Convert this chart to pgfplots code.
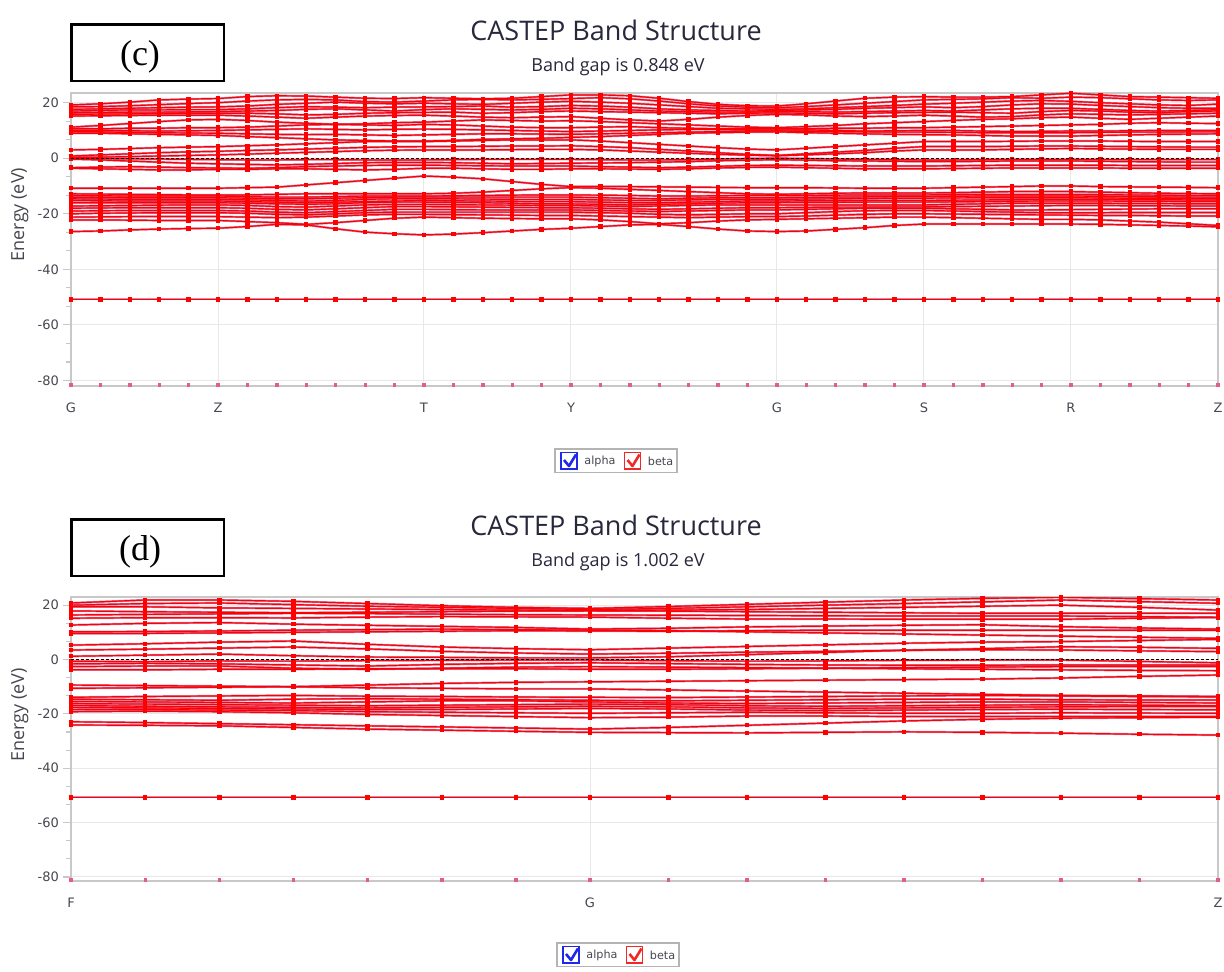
\documentclass[border=0pt]{standalone}
\usepackage{fontspec}
\setmainfont{DejaVu Sans}
\newfontfamily\titlefont{Open Sans}
\newfontfamily\boxfont{Liberation Serif}
\usepackage{pgfplots}
\usepackage{pgfplotstable}
\pgfplotsset{compat=1.18}

\definecolor{betared}{RGB}{255,0,0}
\definecolor{alphapurple}{RGB}{185,55,125}
\definecolor{corepink}{RGB}{225,95,130}
\definecolor{gridgray}{RGB}{232,232,232}
\definecolor{axisgray}{RGB}{200,200,200}
\definecolor{labelgray}{RGB}{70,70,80}
\definecolor{titlecol}{RGB}{40,40,60}
\definecolor{chkblue}{RGB}{30,40,230}
\definecolor{chkred}{RGB}{240,40,40}
\definecolor{legframe}{RGB}{180,180,180}

% Panel (c): one row per band, first row = k-point index along G-Z-T-Y-G-S-R-Z
\pgfplotstableread[header=false]{
0 1 2 3 4 5 6 7 8 9 10 11 12 13 14 15 16 17 18 19 20 21 22 23 24 25 26 27 28 29 30 31 32 33 34 35 36 37 38 39
19.2 19.6 20.2 21.0 21.3 21.5 22.2 22.5 22.4 22.0 21.6 21.5 21.8 21.6 21.4 21.6 22.2 22.8 22.8 22.5 21.6 20.4 19.4 18.9 18.8 19.6 20.6 21.6 22.0 22.2 22.0 22.0 22.2 22.8 23.4 22.8 22.2 22.0 21.8 21.6
18.5 18.6 18.9 19.3 19.7 20.0 20.6 21.0 21.2 21.0 20.4 20.2 20.6 21.0 21.2 21.0 21.2 21.5 21.8 21.4 20.6 19.6 18.8 18.4 18.2 18.6 19.2 19.8 20.4 21.0 21.2 21.4 21.8 21.6 22.0 21.8 21.4 21.0 20.8 21.0
17.6 17.8 18.0 18.2 18.4 18.5 18.8 19.4 19.8 20.2 19.8 19.6 19.8 19.6 19.4 19.8 20.2 20.5 20.2 19.8 19.2 18.6 18.0 17.8 17.6 17.8 18.2 18.6 19.0 19.5 19.8 20.2 20.6 20.8 20.5 20.0 19.6 19.2 19.0 19.5
17.0 17.2 17.4 17.4 17.5 17.5 17.8 18.2 18.6 18.4 18.2 18.4 18.5 18.6 18.8 18.4 18.6 19.0 18.8 18.4 17.8 17.4 17.2 17.0 17.2 17.4 17.6 18.0 18.2 18.5 18.2 18.6 19.2 19.6 19.5 19.0 18.6 18.2 18.0 18.0
16.4 16.5 16.6 16.6 16.7 16.8 17.0 17.2 17.6 17.8 17.4 17.0 17.5 17.8 17.6 17.4 17.6 18.0 17.8 17.4 17.0 16.8 16.6 16.6 16.8 16.8 16.6 16.8 17.0 17.2 17.0 17.4 17.8 18.0 18.0 17.6 17.2 17.0 17.2 17.5
15.8 15.9 16.0 16.1 16.2 16.2 16.2 16.0 15.6 15.8 16.2 16.4 16.5 16.6 16.2 16.4 16.8 17.0 16.8 16.6 16.4 16.2 16.0 16.2 16.3 16.2 16.0 16.2 16.4 16.5 16.6 16.4 16.2 16.8 17.2 17.0 16.6 16.4 16.8 17.0
15.2 15.3 15.4 15.5 15.5 15.5 15.2 14.8 14.4 14.8 15.2 15.4 15.5 15.2 14.8 14.6 14.8 15.0 14.4 13.8 13.4 14.0 14.8 15.4 15.8 15.6 15.2 15.0 15.2 15.5 15.2 14.8 15.0 15.6 16.0 15.8 15.6 15.8 16.0 16.2
11.2 11.8 12.5 13.2 13.8 14.0 13.6 13.0 12.6 12.2 12.4 12.8 13.0 13.4 13.8 13.6 13.4 13.5 13.2 12.8 12.4 12.0 11.6 11.2 11.0 11.4 11.8 12.4 12.8 13.2 13.6 14.0 14.2 14.6 14.8 14.4 14.0 14.4 14.8 15.2
10.6 10.6 10.8 10.8 11.0 11.0 11.2 11.6 12.0 12.2 12.0 11.8 12.2 12.0 11.6 11.2 11.0 11.0 11.2 11.4 11.0 10.8 10.6 10.6 10.6 10.6 10.8 10.8 11.0 11.0 11.2 11.4 11.6 11.8 12.0 12.2 12.6 12.8 12.6 12.5
10.0 10.0 9.9 9.8 9.9 10.0 10.2 10.4 10.6 10.4 10.2 10.4 10.5 10.4 10.2 10.0 9.8 9.6 9.8 10.0 10.2 10.4 10.4 10.2 10.2 10.2 10.0 9.8 9.9 10.0 10.0 9.8 9.6 9.7 9.8 9.8 9.9 10.0 10.0 10.0
9.6 9.5 9.3 9.2 9.1 9.0 8.8 8.6 8.5 8.6 8.4 8.2 8.4 8.6 8.8 8.8 8.7 8.6 8.8 9.0 9.2 9.4 9.6 9.8 9.8 9.7 9.6 9.5 9.4 9.4 9.3 9.2 9.2 9.2 9.2 9.3 9.4 9.4 9.5 9.5
9.0 9.0 8.8 8.6 8.4 8.2 7.8 7.4 7.0 6.6 6.4 6.2 6.2 6.4 6.8 7.0 7.2 7.5 7.8 8.2 8.6 9.0 9.2 9.4 9.5 9.2 9.0 8.8 8.6 8.5 8.4 8.2 8.0 8.0 8.0 8.2 8.4 8.6 8.7 8.8
3.0 3.2 3.5 3.8 4.0 4.2 4.5 4.8 5.2 5.6 6.0 6.0 6.0 6.2 6.4 6.6 6.6 6.6 6.2 5.6 5.0 4.4 3.8 3.3 3.0 3.6 4.2 4.8 5.4 6.0 6.0 6.0 6.1 6.2 6.2 6.2 6.1 6.0 6.0 6.0
0.8 1.2 1.6 2.0 2.3 2.5 2.8 3.0 3.3 3.6 3.9 4.1 4.2 4.2 4.3 4.4 4.4 4.5 4.2 3.8 3.2 2.6 2.0 1.4 1.0 1.6 2.2 2.8 3.6 4.2 4.2 4.2 4.3 4.4 4.4 4.3 4.2 4.1 4.0 4.0
0.3 0.4 0.6 0.8 1.0 1.2 1.5 1.8 2.1 2.4 2.7 2.9 3.0 3.0 3.0 3.1 3.2 3.2 3.0 2.6 2.2 1.8 1.4 1.1 0.9 1.2 1.6 2.0 2.6 3.0 3.0 3.0 3.2 3.4 3.5 3.4 3.3 3.2 3.2 3.2
0.0 -0.1 -0.2 -0.3 -0.4 -0.5 -0.6 -0.6 -0.5 -0.5 -0.6 -0.6 -0.6 -0.5 -0.4 -0.4 -0.4 -0.4 -0.5 -0.6 -0.6 -0.5 -0.3 -0.1 0.0 -0.1 -0.3 -0.4 -0.5 -0.6 -0.6 -0.5 -0.4 -0.4 -0.4 -0.5 -0.5 -0.5 -0.5 -0.5
-0.3 -0.6 -1.0 -1.4 -1.8 -2.0 -2.2 -2.4 -2.2 -1.9 -1.6 -1.5 -1.5 -1.6 -1.8 -2.0 -1.9 -1.8 -1.7 -1.6 -1.4 -1.2 -0.9 -0.7 -0.5 -0.7 -0.9 -1.0 -1.1 -1.2 -1.2 -1.1 -1.0 -1.0 -1.0 -1.1 -1.2 -1.3 -1.4 -1.4
-3.4 -3.2 -3.0 -3.2 -3.4 -3.5 -3.6 -3.4 -3.0 -2.8 -2.6 -2.5 -2.5 -2.6 -2.7 -2.8 -2.8 -2.8 -3.0 -3.2 -3.4 -3.2 -2.9 -2.6 -2.5 -2.6 -2.7 -2.8 -2.8 -2.8 -2.7 -2.6 -2.5 -2.5 -2.5 -2.5 -2.6 -2.6 -2.6 -2.6
-3.6 -3.8 -4.0 -4.2 -4.2 -4.0 -4.0 -3.8 -3.8 -4.0 -4.2 -4.0 -3.6 -3.6 -3.8 -4.0 -4.0 -3.8 -3.8 -3.9 -4.0 -3.8 -3.5 -3.3 -3.2 -3.4 -3.6 -3.8 -3.8 -3.8 -3.7 -3.6 -3.5 -3.5 -3.5 -3.5 -3.6 -3.6 -3.6 -3.6
-10.8 -10.8 -10.8 -10.8 -10.8 -10.8 -10.6 -10.4 -9.6 -8.8 -8.0 -7.2 -6.4 -6.8 -7.4 -8.4 -9.4 -10.2 -10.2 -10.2 -10.3 -10.4 -10.5 -10.6 -10.6 -10.6 -10.7 -10.8 -10.8 -10.8 -10.6 -10.4 -10.2 -10.0 -10.0 -10.2 -10.3 -10.4 -10.5 -10.6
-12.8 -12.9 -13.0 -13.1 -13.2 -13.2 -13.2 -13.0 -12.8 -12.8 -12.8 -12.8 -12.8 -12.6 -12.2 -11.6 -11.0 -10.6 -10.8 -11.2 -11.6 -12.0 -12.4 -12.8 -13.0 -12.8 -12.6 -12.5 -12.5 -12.5 -12.4 -12.2 -12.0 -12.0 -12.0 -12.2 -12.4 -12.6 -12.7 -12.8
-13.4 -13.5 -13.6 -13.6 -13.6 -13.6 -13.8 -14.0 -14.0 -13.8 -13.6 -13.6 -13.6 -13.5 -13.4 -13.3 -13.2 -13.2 -13.3 -13.4 -13.6 -13.6 -13.5 -13.4 -13.4 -13.4 -13.3 -13.2 -13.2 -13.2 -13.1 -13.0 -13.0 -13.0 -13.0 -13.1 -13.2 -13.3 -13.4 -13.4
-14.0 -14.1 -14.2 -14.2 -14.2 -14.2 -14.4 -14.6 -14.6 -14.4 -14.2 -14.0 -14.0 -14.0 -14.0 -14.0 -14.0 -14.0 -14.2 -14.4 -14.6 -14.4 -14.2 -14.2 -14.2 -14.1 -14.0 -13.9 -13.8 -13.8 -13.7 -13.6 -13.6 -13.6 -13.6 -13.7 -13.8 -13.9 -14.0 -14.0
-14.6 -14.7 -14.8 -14.8 -14.8 -14.8 -15.0 -15.2 -15.4 -15.2 -14.8 -14.6 -14.6 -14.6 -14.7 -14.8 -14.8 -14.8 -15.0 -15.2 -15.2 -15.0 -14.8 -14.8 -14.8 -14.7 -14.6 -14.5 -14.4 -14.4 -14.3 -14.2 -14.2 -14.2 -14.2 -14.3 -14.4 -14.4 -14.5 -14.5
-15.2 -15.3 -15.4 -15.4 -15.4 -15.4 -15.6 -15.8 -16.0 -15.8 -15.6 -15.4 -15.2 -15.3 -15.4 -15.5 -15.6 -15.6 -15.8 -16.0 -16.0 -15.8 -15.6 -15.4 -15.4 -15.3 -15.3 -15.2 -15.2 -15.2 -15.1 -15.0 -14.9 -14.8 -14.8 -14.8 -14.9 -14.9 -15.0 -15.0
-16.0 -16.0 -16.0 -16.0 -16.0 -16.0 -16.2 -16.4 -16.6 -16.4 -16.0 -15.8 -15.8 -15.9 -16.0 -16.2 -16.4 -16.4 -16.6 -16.8 -16.6 -16.4 -16.2 -16.0 -16.0 -15.9 -15.9 -15.8 -15.8 -15.8 -15.7 -15.6 -15.5 -15.4 -15.4 -15.4 -15.5 -15.5 -15.6 -15.6
-17.2 -17.1 -17.0 -16.9 -16.8 -16.8 -17.0 -17.4 -17.6 -17.2 -16.8 -16.6 -16.6 -16.7 -16.8 -16.9 -17.0 -17.0 -17.2 -17.4 -17.2 -17.0 -16.8 -16.8 -16.8 -16.8 -16.8 -16.8 -16.8 -16.8 -16.6 -16.4 -16.2 -16.2 -16.2 -16.2 -16.3 -16.3 -16.4 -16.4
-18.0 -17.9 -17.8 -17.8 -17.8 -17.8 -18.0 -18.4 -18.6 -18.2 -17.8 -17.4 -17.4 -17.5 -17.6 -17.7 -17.8 -17.8 -18.0 -18.2 -18.4 -18.2 -18.0 -17.8 -17.8 -17.7 -17.6 -17.6 -17.5 -17.5 -17.4 -17.3 -17.2 -17.1 -17.0 -17.0 -17.1 -17.1 -17.2 -17.2
-19.0 -18.9 -18.8 -18.8 -18.8 -18.8 -19.0 -19.4 -19.6 -19.2 -18.8 -18.4 -18.4 -18.5 -18.6 -18.6 -18.6 -18.6 -18.8 -19.0 -19.2 -19.0 -18.8 -18.6 -18.6 -18.4 -18.2 -18.0 -18.0 -18.0 -18.2 -18.4 -18.6 -18.6 -18.5 -18.4 -18.3 -18.2 -18.2 -18.2
-20.0 -19.8 -19.7 -19.6 -19.6 -19.6 -19.8 -20.2 -20.4 -20.0 -19.6 -19.4 -19.4 -19.4 -19.4 -19.4 -19.4 -19.4 -19.6 -19.8 -20.2 -20.4 -20.2 -20.0 -20.0 -19.6 -19.2 -18.9 -18.8 -18.8 -19.0 -19.2 -19.4 -19.6 -19.6 -19.6 -19.5 -19.5 -19.5 -19.5
-21.2 -21.1 -21.0 -21.0 -21.0 -21.0 -21.2 -21.4 -21.2 -20.8 -20.4 -20.2 -20.2 -20.3 -20.4 -20.5 -20.6 -20.6 -20.8 -21.0 -21.2 -21.4 -21.2 -21.0 -21.0 -20.8 -20.5 -20.2 -20.0 -20.0 -20.1 -20.2 -20.3 -20.4 -20.5 -20.6 -20.6 -20.7 -20.8 -20.8
-22.2 -22.2 -22.3 -22.4 -22.4 -22.4 -22.8 -23.2 -23.8 -23.2 -22.4 -21.6 -21.2 -21.4 -21.6 -21.7 -21.8 -21.8 -22.2 -22.8 -23.6 -23.2 -22.6 -22.2 -22.0 -21.8 -21.6 -21.4 -21.2 -21.2 -21.4 -21.6 -21.8 -22.0 -22.0 -22.2 -22.6 -23.0 -23.6 -24.2
-26.4 -26.2 -25.8 -25.5 -25.3 -25.2 -24.6 -23.8 -24.0 -25.4 -26.6 -27.2 -27.6 -27.3 -26.8 -26.2 -25.6 -25.2 -24.6 -24.0 -23.8 -24.6 -25.5 -26.2 -26.4 -26.2 -25.6 -25.0 -24.2 -23.7 -23.7 -23.7 -23.7 -23.7 -23.7 -23.8 -24.0 -24.2 -24.4 -24.7
-50.8 -50.8 -50.8 -50.8 -50.8 -50.8 -50.8 -50.8 -50.8 -50.8 -50.8 -50.8 -50.8 -50.8 -50.8 -50.8 -50.8 -50.8 -50.8 -50.8 -50.8 -50.8 -50.8 -50.8 -50.8 -50.8 -50.8 -50.8 -50.8 -50.8 -50.8 -50.8 -50.8 -50.8 -50.8 -50.8 -50.8 -50.8 -50.8 -50.8
-81.6 -81.6 -81.6 -81.6 -81.6 -81.6 -81.6 -81.6 -81.6 -81.6 -81.6 -81.6 -81.6 -81.6 -81.6 -81.6 -81.6 -81.6 -81.6 -81.6 -81.6 -81.6 -81.6 -81.6 -81.6 -81.6 -81.6 -81.6 -81.6 -81.6 -81.6 -81.6 -81.6 -81.6 -81.6 -81.6 -81.6 -81.6 -81.6 -81.6
}\rawc
\pgfplotstabletranspose{\tabc}{\rawc}

% Panel (d): one row per band, first row = path length along F-G-Z
\pgfplotstableread[header=false]{
0 74.1 148.3 222.4 296.6 370.7 444.9 519 597.5 676 754.5 833 911.5 990 1068.5 1147
20.8 21.9 21.9 21.4 20.6 19.8 19.2 18.8 19.5 20.3 21.1 21.9 22.5 22.9 22.4 21.9
20.0 20.6 20.8 20.2 19.6 19.2 18.8 18.4 18.8 19.4 20.0 20.6 21.2 21.9 21.3 20.7
19.4 19.4 19.0 18.8 18.6 18.4 18.2 18.0 18.2 18.4 18.8 19.2 19.6 20.0 19.2 18.2
17.9 17.6 17.4 17.2 17.4 17.6 17.8 17.9 17.8 17.6 17.4 17.2 17.0 17.0 17.0 17.0
16.4 16.6 16.8 17.0 16.9 16.7 16.5 16.4 16.3 16.2 16.1 16.0 16.0 16.0 15.8 15.5
15.2 15.4 15.4 15.3 15.6 15.8 15.7 15.6 15.2 14.9 14.9 14.8 14.8 14.8 15.2 15.5
12.7 13.3 13.6 13.0 12.6 12.2 11.8 11.2 11.5 12.0 12.3 12.6 12.8 12.1 11.6 11.2
10.2 10.3 10.5 10.8 11.0 11.2 11.0 10.8 10.6 10.2 9.8 9.4 9.0 8.6 8.2 7.8
9.6 9.6 9.8 10.0 10.2 10.4 10.6 10.5 10.4 10.6 10.8 10.8 10.8 10.8 10.8 10.8
5.3 5.8 6.4 6.8 5.6 4.6 4.0 3.6 4.2 4.8 5.4 6.0 6.4 6.6 7.0 7.4
3.5 3.8 4.2 4.6 3.9 3.0 2.4 2.0 2.3 2.7 3.0 3.4 3.6 3.5 3.2 2.9
1.2 1.6 2.0 1.4 0.9 0.8 0.6 0.6 1.0 1.8 2.6 3.4 4.0 4.7 4.5 4.1
-0.6 -0.8 -0.5 -0.6 -0.4 -0.3 -0.2 -0.2 -0.4 -0.6 -0.5 -0.3 -0.2 -0.2 -0.7 -1.2
-1.6 -1.4 -1.6 -2.0 -2.4 -1.8 -1.4 -1.2 -1.5 -1.8 -2.0 -2.1 -2.1 -2.0 -2.0 -2.0
-2.6 -2.4 -2.4 -3.2 -3.6 -3.2 -2.8 -2.6 -2.8 -3.0 -3.2 -3.4 -3.6 -3.8 -4.0 -4.1
-3.8 -3.8 -3.6 -3.6 -3.4 -3.4 -3.4 -3.6 -3.6 -3.4 -3.2 -3.0 -2.8 -2.6 -2.6 -2.6
-9.4 -9.6 -9.8 -10.0 -9.4 -8.8 -8.4 -8.2 -8.0 -7.8 -7.6 -7.4 -7.2 -6.8 -6.2 -5.7
-10.6 -10.4 -10.2 -10.0 -10.4 -10.6 -10.8 -10.8 -11.2 -11.6 -12.0 -12.4 -12.8 -13.2 -13.4 -13.6
-13.9 -13.6 -13.4 -13.2 -13.5 -13.6 -13.8 -13.9 -14.0 -13.8 -13.6 -13.4 -13.2 -13.4 -13.6 -13.7
-14.6 -14.8 -15.0 -14.6 -14.4 -14.6 -14.8 -15.0 -15.2 -15.0 -14.8 -14.6 -14.6 -14.8 -14.9 -14.9
-15.4 -15.6 -15.8 -16.0 -15.6 -15.2 -15.2 -15.6 -16.0 -16.2 -16.0 -15.8 -15.6 -15.6 -15.8 -16.0
-16.2 -16.4 -16.6 -16.8 -17.0 -16.8 -16.6 -16.4 -16.6 -17.0 -17.2 -17.0 -16.8 -16.6 -16.8 -17.0
-16.9 -17.2 -17.4 -17.6 -17.8 -17.6 -17.4 -17.2 -17.4 -17.8 -18.0 -17.8 -17.6 -17.4 -17.3 -17.3
-17.6 -17.8 -18.0 -18.2 -18.4 -18.4 -18.2 -18.0 -18.2 -18.6 -18.8 -18.6 -18.4 -18.3 -18.4 -18.5
-18.4 -18.4 -18.6 -18.8 -19.2 -19.4 -19.6 -19.8 -19.6 -19.4 -19.6 -19.8 -19.8 -19.6 -19.7 -19.8
-19.2 -19.0 -19.2 -19.6 -20.2 -20.6 -21.0 -21.4 -21.2 -20.8 -20.8 -21.0 -21.0 -21.0 -21.0 -21.0
-22.9 -23.2 -23.6 -24.0 -24.4 -24.8 -25.2 -25.6 -25.0 -24.2 -23.4 -22.6 -22.0 -21.6 -21.4 -21.2
-24.1 -24.2 -24.4 -25.0 -25.6 -26.0 -26.4 -26.8 -26.9 -27.0 -26.8 -26.6 -26.8 -27.1 -27.5 -27.8
-50.7 -50.7 -50.7 -50.7 -50.7 -50.7 -50.7 -50.7 -50.7 -50.7 -50.7 -50.7 -50.7 -50.7 -50.7 -50.7
-81.1 -81.1 -81.1 -81.1 -81.1 -81.1 -81.1 -81.1 -81.1 -81.1 -81.1 -81.1 -81.1 -81.1 -81.1 -81.1
}\rawd
\pgfplotstabletranspose{\tabd}{\rawd}

\pgfplotsset{
  bandaxis/.style={
    scale only axis, anchor=south west, width=573.5pt,
    axis line style={axisgray, line width=0.7pt},
    grid=major, major grid style={gridgray, line width=0.5pt},
    ytick={-80,-60,-40,-20,0,20}, minor y tick num=2,
    ytick pos=left, xtick pos=bottom, tick align=outside,
    major tick length=4pt, minor tick length=2.5pt,
    every tick/.style={axisgray, line width=0.6pt},
    every major x tick/.style={draw=none},
    every x tick/.style={draw=none},
    /pgf/number format/assume math mode=true,
    yticklabel style={font=\fontsize{6.5}{7.5}\selectfont, text=labelgray, xshift=1.5pt},
    xticklabel style={font=\fontsize{6.5}{7.5}\selectfont, text=labelgray, yshift=-1pt},
    ylabel={Energy (eV)},
    every axis y label/.style={at={(axis description cs:-0.0445,0.585)}, rotate=90, anchor=center,
      font=\titlefont\fontsize{9}{10}\selectfont, text=labelgray},
    clip mode=individual,
  },
  alphaband/.style={alphapurple, opacity=0.6, line width=1.1pt, no markers},
  betaband/.style={betared, line width=0.6pt, mark=square*, mark size=0.8pt,
    mark options={draw=betared, fill=betared}},
  edgeband/.style={only marks, mark=square*, mark size=0.6pt,
    mark options={draw=corepink, fill=corepink}},
  fermi/.style={black, line width=0.5pt, dash pattern=on 1.5pt off 1pt, no markers},
}

\begin{document}
\begin{tikzpicture}
\path[use as bounding box] (0,0) rectangle (612pt,-486pt);

% ---------- panel (c) ----------
\begin{axis}[bandaxis, at={(35.5pt,-193pt)}, height=146.5pt,
  xmin=0, xmax=39, ymin=-82, ymax=23.5,
  xtick={0,5,12,17,24,29,34,39}, xticklabels={G,Z,T,Y,G,S,R,Z}]
  \pgfplotsinvokeforeach{2,...,35}{
    \addplot[alphaband] table[x index=1, y index=#1] {\tabc};
  }
  \pgfplotsinvokeforeach{2,...,35}{
    \addplot[betaband] table[x index=1, y index=#1] {\tabc};
  }
  % lowest core level sits on the frame
  \addplot[edgeband] table[x index=1, y index=36] {\tabc};
  \addplot[fermi] coordinates {(0,0) (39,0)};
\end{axis}

% ---------- panel (d) ----------
\begin{axis}[bandaxis, at={(35.5pt,-440.5pt)}, height=142pt,
  xmin=0, xmax=1147, ymin=-81.5, ymax=23,
  xtick={0,519,1147}, xticklabels={F,G,Z}]
  \pgfplotsinvokeforeach{2,...,30}{
    \addplot[alphaband] table[x index=1, y index=#1] {\tabd};
  }
  \pgfplotsinvokeforeach{2,...,30}{
    \addplot[betaband] table[x index=1, y index=#1] {\tabd};
  }
  \addplot[edgeband] table[x index=1, y index=31] {\tabd};
  \addplot[fermi] coordinates {(0,0) (1147,0)};
\end{axis}

% ---------- titles, panel tags and legends ----------
\begin{scope}[x=0.5pt, y=-0.5pt]
  \foreach \dy/\tag/\gap in {0/c/0.848, 495/d/1.002}{
    \node[font=\titlefont\fontsize{13.5}{15}\selectfont, text=titlecol] at (616,30+\dy) {CASTEP Band Structure};
    \node[font=\titlefont\fontsize{9}{10}\selectfont, text=titlecol] at (618,67+\dy) {Band gap is \gap\ eV};
    \draw[black, line width=1.1pt] (71.5,24.5+\dy) rectangle (224,81+\dy);
    \node[font=\boxfont\fontsize{18}{20}\selectfont] at (140,57+\dy) {(\tag)};
  }
  \foreach \dx/\dy in {0/0, 2/494}{
    \begin{scope}[shift={(\dx,\dy)}]
      \draw[legframe, line width=0.6pt] (555,449) rectangle (677,472.5);
      \draw[chkblue, line width=0.7pt] (561,452.5) rectangle (577,469);
      \draw[chkblue, line width=1.3pt, line join=round] (564,460) -- (569,466) -- (576,454.5);
      \node[font=\fontsize{5.6}{6.5}\selectfont, text=labelgray, anchor=west, inner sep=0pt] at (584,461) {alpha};
      \draw[chkred, line width=0.7pt] (624.5,452.5) rectangle (640.5,469);
      \draw[chkred, line width=1.3pt, line join=round] (627.5,460) -- (632.5,466) -- (639.5,454.5);
      \node[font=\fontsize{5.6}{6.5}\selectfont, text=labelgray, anchor=west, inner sep=0pt] at (647.5,461) {beta};
    \end{scope}
  }
\end{scope}
\end{tikzpicture}
\end{document}
